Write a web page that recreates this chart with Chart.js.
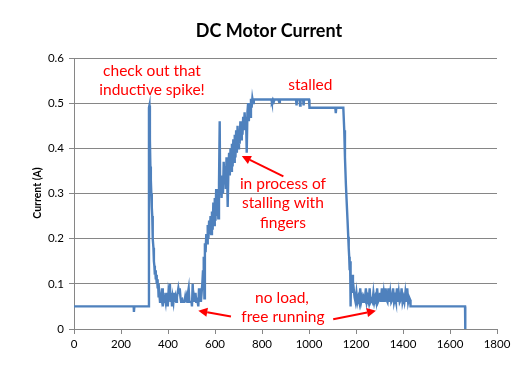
<!DOCTYPE html>
<html>
<head>
<meta charset="utf-8">
<script src="https://cdn.jsdelivr.net/npm/chart.js@4.4.1/dist/chart.umd.min.js"></script>
<style>
  html, body { margin: 0; padding: 0; background: #fff; }
  canvas { display: block; }
</style>
</head>
<body>
<canvas id="motorChart" width="532" height="367"></canvas>
<script>
// =====================================================
// DATA  (time, current in A)
// =====================================================

const idleStart = [
  [0, 0.05], [254, 0.05], [255, 0.038], [257, 0.05], [318, 0.05]
];

const spikeDecay = [
  [319, 0.49], [321, 0.495], [323, 0.42], [325, 0.36], [327, 0.33],
  [329, 0.3], [331, 0.27], [333, 0.25], [334, 0.24], [336, 0.2],
  [338, 0.18], [340, 0.15], [342, 0.14], [344, 0.12], [346, 0.13],
  [348, 0.11], [350, 0.12], [352, 0.1], [354, 0.11], [356, 0.09],
  [358, 0.1], [360, 0.07]
];

const noLoadFirst = [
  [363, 0.08], [366, 0.06], [369, 0.08], [372, 0.07], [375, 0.09],
  [378, 0.05], [381, 0.08], [384, 0.06], [387, 0.07], [390, 0.06],
  [393, 0.08], [396, 0.06], [399, 0.05], [402, 0.08], [405, 0.07],
  [408, 0.1], [411, 0.06], [414, 0.08], [417, 0.05], [420, 0.07],
  [423, 0.06], [426, 0.08], [429, 0.06], [432, 0.07], [435, 0.06],
  [438, 0.07], [441, 0.08], [444, 0.09], [447, 0.08], [450, 0.09],
  [453, 0.07], [456, 0.06], [459, 0.07], [462, 0.06], [470, 0.06],
  [473, 0.07], [476, 0.06], [479, 0.07], [482, 0.06], [485, 0.08],
  [488, 0.09], [491, 0.06], [500, 0.06], [502, 0.05], [505, 0.1],
  [508, 0.06], [511, 0.07], [514, 0.06], [517, 0.08], [520, 0.06],
  [523, 0.07], [526, 0.06], [529, 0.05], [532, 0.09], [535, 0.06],
  [538, 0.07]
];

const stallRise = [
  [540, 0.06], [543, 0.08], [546, 0.1], [549, 0.13], [551, 0.11],
  [553, 0.16], [555, 0.068], [557, 0.19], [560, 0.17], [563, 0.21],
  [566, 0.19], [569, 0.23], [572, 0.2], [575, 0.24], [578, 0.21],
  [581, 0.25], [584, 0.21], [587, 0.26], [590, 0.22], [593, 0.28],
  [596, 0.23], [599, 0.29], [602, 0.24], [605, 0.31], [608, 0.25],
  [611, 0.3], [614, 0.245], [617, 0.32], [620, 0.46], [622, 0.3],
  [625, 0.33], [628, 0.29], [631, 0.34], [634, 0.3], [637, 0.37],
  [640, 0.32], [643, 0.36], [646, 0.31], [649, 0.38], [652, 0.33],
  [654, 0.27], [657, 0.35], [660, 0.39], [663, 0.34], [666, 0.4],
  [669, 0.35], [672, 0.41], [675, 0.36], [678, 0.42], [681, 0.37],
  [684, 0.43], [687, 0.38], [690, 0.44], [693, 0.39], [696, 0.45],
  [699, 0.4], [702, 0.44], [705, 0.41], [708, 0.46], [711, 0.42],
  [714, 0.46], [717, 0.43], [720, 0.47], [723, 0.44], [726, 0.48],
  [729, 0.45], [732, 0.47], [735, 0.39], [738, 0.48], [741, 0.5],
  [744, 0.46], [747, 0.5], [750, 0.47], [753, 0.51], [756, 0.49],
  [759, 0.51], [762, 0.5], [765, 0.508]
];

const stalled = [
  [840, 0.508], [842, 0.503], [846, 0.508], [850, 0.503], [853, 0.508],
  [870, 0.508], [873, 0.503], [876, 0.508], [945, 0.508], [947, 0.495],
  [949, 0.508], [960, 0.508], [962, 0.495], [964, 0.508], [975, 0.508],
  [977, 0.495], [979, 0.508], [1000, 0.508], [1002, 0.49], [1112, 0.49],
  [1114, 0.478], [1116, 0.49], [1146, 0.49]
];

const release = [
  [1150, 0.44], [1153, 0.38], [1157, 0.32], [1160, 0.285], [1164, 0.24],
  [1167, 0.204], [1169, 0.18], [1171, 0.16], [1173, 0.13], [1175, 0.15],
  [1177, 0.05], [1179, 0.12], [1181, 0.09], [1184, 0.12], [1187, 0.08]
];

const noLoadSecond = [
  [1190, 0.09], [1194, 0.07], [1198, 0.06], [1202, 0.08], [1206, 0.06],
  [1210, 0.07], [1214, 0.06], [1218, 0.09], [1222, 0.06], [1226, 0.07],
  [1230, 0.06], [1234, 0.07], [1238, 0.065], [1242, 0.09], [1246, 0.06],
  [1250, 0.07], [1254, 0.06], [1258, 0.09], [1262, 0.06], [1266, 0.065],
  [1270, 0.06], [1274, 0.08], [1278, 0.06], [1282, 0.07], [1286, 0.06],
  [1290, 0.09], [1294, 0.06], [1298, 0.065], [1302, 0.08], [1306, 0.06],
  [1310, 0.09], [1314, 0.06], [1318, 0.08], [1322, 0.06], [1326, 0.09],
  [1330, 0.065], [1334, 0.06], [1338, 0.09], [1342, 0.06], [1346, 0.08],
  [1350, 0.06], [1354, 0.065], [1358, 0.09], [1362, 0.06], [1366, 0.07],
  [1370, 0.06], [1374, 0.09], [1378, 0.06], [1382, 0.08], [1386, 0.06],
  [1390, 0.065], [1394, 0.09], [1398, 0.06], [1402, 0.07], [1406, 0.06],
  [1410, 0.08], [1414, 0.06], [1418, 0.09], [1422, 0.06], [1426, 0.07],
  [1430, 0.065]
];

const idleEnd = [
  [1432, 0.05], [1664, 0.05], [1665, 0]
];

const xTicks = [0, 200, 400, 600, 800, 1000, 1200, 1400, 1600, 1800];
const yTicks = [0, 0.1, 0.2, 0.3, 0.4, 0.5, 0.6];

const chartTitle = "DC Motor Current";
const yAxisTitle = "Current (A)";

// =====================================================
// ANNOTATIONS (data coordinates)
// =====================================================

const notes = [
  { text: "check out that", x: 332, y: 0.571 },
  { text: "inductive spike!", x: 332, y: 0.529 },
  { text: "stalled", x: 1006, y: 0.54 },
  { text: "in process of", x: 889, y: 0.321 },
  { text: "stalling with", x: 889, y: 0.278 },
  { text: "fingers", x: 889, y: 0.235 },
  { text: "no load,", x: 885, y: 0.069 },
  { text: "free running", x: 889, y: 0.027 }
];

const arrows = [
  { from: [891, 0.338], to: [714, 0.383] },
  { from: [668, 0.0277], to: [529, 0.0405] },
  { from: [1103, 0.0215], to: [1285, 0.0405] }
];

const points = []
  .concat(idleStart, spikeDecay, noLoadFirst, stallRise,
          stalled, release, noLoadSecond, idleEnd)
  .map(p => ({ x: p[0], y: p[1] }));

// =====================================================
// DECORATION PLUGIN
// =====================================================

const decor = {
  id: "decor",
  afterDraw(chart) {
    const ctx = chart.ctx;
    const xs = chart.scales.x;
    const ys = chart.scales.y;

    ctx.save();

    // title
    ctx.fillStyle = "#000";
    ctx.font = "bold 18px Lato";
    ctx.textAlign = "center";
    ctx.textBaseline = "middle";
    ctx.fillText(chartTitle, 269, 31);

    // y axis title
    ctx.save();
    ctx.translate(38, 193);
    ctx.rotate(-Math.PI / 2);
    ctx.font = "bold 10.5px Lato";
    ctx.fillText(yAxisTitle, 0, 0);
    ctx.restore();

    // notes
    ctx.fillStyle = "#ff0000";
    ctx.font = "15.5px Lato";
    notes.forEach(n => {
      ctx.fillText(
        n.text,
        xs.getPixelForValue(n.x),
        ys.getPixelForValue(n.y)
      );
    });

    // arrows
    ctx.strokeStyle = "#ff0000";
    ctx.lineWidth = 2;
    arrows.forEach(a => {
      const x1 = xs.getPixelForValue(a.from[0]);
      const y1 = ys.getPixelForValue(a.from[1]);
      const x2 = xs.getPixelForValue(a.to[0]);
      const y2 = ys.getPixelForValue(a.to[1]);
      const ang = Math.atan2(y2 - y1, x2 - x1);
      const len = 9;
      const half = 4.5;
      const bx = x2 - len * Math.cos(ang);
      const by = y2 - len * Math.sin(ang);

      ctx.beginPath();
      ctx.moveTo(x1, y1);
      ctx.lineTo(bx, by);
      ctx.stroke();

      ctx.beginPath();
      ctx.moveTo(x2, y2);
      ctx.lineTo(bx + half * Math.sin(ang), by - half * Math.cos(ang));
      ctx.lineTo(bx - half * Math.sin(ang), by + half * Math.cos(ang));
      ctx.closePath();
      ctx.fill();
    });

    ctx.restore();
  }
};

// =====================================================
// CHART
// =====================================================

const tickFont = { family: "Lato", size: 11.5 };

new Chart(
  document.getElementById("motorChart"),
  {
    type: "scatter",

    data: {
      datasets: [
        {
          data: points,
          showLine: true,
          borderColor: "#4f81bd",
          borderWidth: 2.4,
          pointRadius: 0,
          tension: 0,
          fill: false
        }
      ]
    },

    options: {
      responsive: false,
      animation: false,
      layout: {
        padding: { left: 0, right: 35, top: 58, bottom: 0 }
      },
      plugins: {
        legend: { display: false },
        tooltip: { enabled: false }
      },
      scales: {
        x: {
          type: "linear",
          min: 0,
          max: 1800,
          afterBuildTicks(s) {
            s.ticks = xTicks.map(v => ({ value: v }));
          },
          ticks: {
            color: "#000",
            font: tickFont,
            padding: 3,
            maxRotation: 0,
            callback: v => String(v)
          },
          grid: {
            drawOnChartArea: false,
            color: "#868686",
            tickLength: 5
          },
          border: { color: "#868686" },
          afterFit(s) { s.height = 38; }
        },
        y: {
          min: 0,
          max: 0.6,
          afterBuildTicks(s) {
            s.ticks = yTicks.map(v => ({ value: v }));
          },
          ticks: {
            color: "#000",
            font: tickFont,
            padding: 5,
            callback: v => String(Math.round(v * 10) / 10)
          },
          grid: {
            color: "#868686",
            tickLength: 5
          },
          border: { color: "#868686" },
          afterFit(s) { s.width = 74; }
        }
      }
    },

    plugins: [decor]
  }
);
</script>
</body>
</html>
